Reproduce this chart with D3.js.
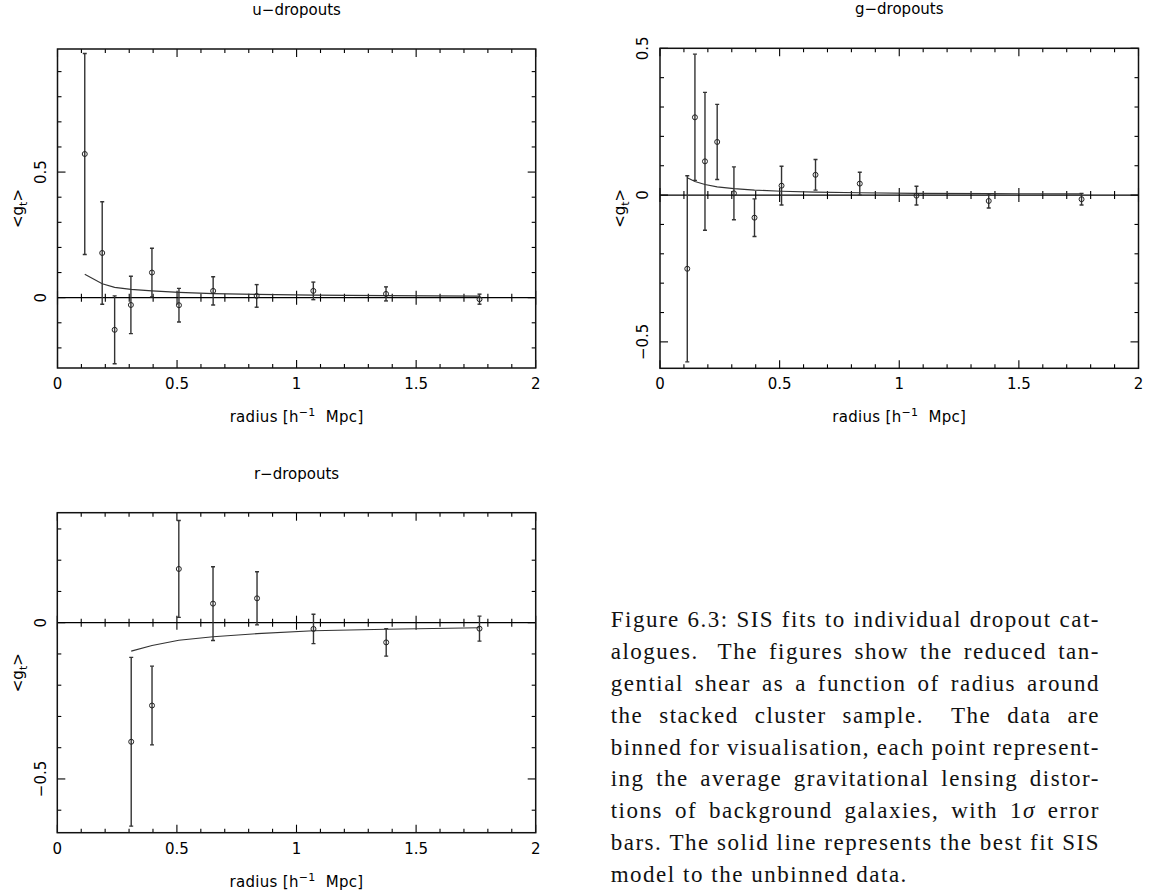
<!DOCTYPE html>
<html>
<head>
<meta charset="utf-8">
<script src="https://cdn.jsdelivr.net/npm/d3@7"></script>
<style>
  body { margin: 0; background: #fff; }
  svg { display: block; }
</style>
</head>
<body>
<svg id="fig" width="1157" height="896"></svg>
<script>
// u-dropouts: bin radius, mean tangential shear, 1 sigma error, SIS model
const uRadius = [0.114, 0.187, 0.239, 0.307, 0.395, 0.508, 0.651, 0.833, 1.070, 1.374, 1.765];
const uShear  = [0.572, 0.178, -0.128, -0.029, 0.100, -0.030, 0.027, 0.007, 0.027, 0.015, -0.006];
const uError  = [0.400, 0.204, 0.135, 0.114, 0.097, 0.067, 0.056, 0.045, 0.035, 0.028, 0.020];
const uModel  = [0.093, 0.055, 0.041, 0.033, 0.027, 0.021, 0.016, 0.013, 0.010, 0.008, 0.006];

// g-dropouts
const gRadius = [0.114, 0.146, 0.188, 0.239, 0.309, 0.395, 0.508, 0.650, 0.835, 1.072, 1.374, 1.762];
const gShear  = [-0.251, 0.265, 0.115, 0.181, 0.006, -0.077, 0.032, 0.069, 0.039, -0.002, -0.020, -0.014];
const gError  = [0.317, 0.215, 0.235, 0.128, 0.090, 0.064, 0.066, 0.052, 0.039, 0.032, 0.024, 0.020];
const gModel  = [0.059, 0.046, 0.036, 0.028, 0.022, 0.017, 0.013, 0.010, 0.008, 0.006, 0.005, 0.004];

// r-dropouts
const rRadius = [0.309, 0.396, 0.508, 0.651, 0.835, 1.071, 1.375, 1.765];
const rShear  = [-0.381, -0.265, 0.172, 0.061, 0.078, -0.020, -0.063, -0.019];
const rError  = [0.270, 0.126, 0.155, 0.118, 0.085, 0.047, 0.044, 0.040];
const rModel  = [-0.091, -0.073, -0.056, -0.045, -0.035, -0.026, -0.021, -0.016];

const xDomain = [0, 2];
const xTickLabels = ["0", "0.5", "1", "1.5", "2"];

const captionLines = [
    "Figure 6.3: SIS fits to individual dropout cat-",
    "alogues.  The figures show the reduced tan-",
    "gential shear as a function of radius around",
    "the stacked cluster sample.  The data are",
    "binned for visualisation, each point represent-",
    "ing the average gravitational lensing distor-",
    "tions of background galaxies, with 1σ error",
    "bars. The solid line represents the best fit SIS",
    "model to the unbinned data."
];

const svg = d3.select("#fig");
const sans = "'DejaVu Sans', sans-serif";
const fmt = d3.format("");

function drawPanel(p) {
    var x = d3.scaleLinear().domain(xDomain).range([p.left, p.right]);
    var y = d3.scaleLinear().domain(p.yDomain).range([p.bottom, p.top]);
    var g = svg.append("g");

    // tick values: minor every 0.1, major every 0.5
    var xMinor = x.ticks(20);
    var xMajor = x.ticks(4);
    var yMinor = d3.range(Math.ceil(p.yDomain[0] * 10 - 1e-6), Math.floor(p.yDomain[1] * 10 + 1e-6) + 1).map(i => i / 10);
    var isMajor = v => Math.abs(v * 2 - Math.round(v * 2)) < 1e-6;

    var clipId = "clip-" + p.id;
    g.append("clipPath").attr("id", clipId)
        .append("rect")
        .attr("x", p.left).attr("y", p.top)
        .attr("width", p.right - p.left).attr("height", p.bottom - p.top);

    var ticks = g.append("g").attr("stroke", "#000").attr("stroke-width", 1.1);

    // top and bottom inward ticks
    ticks.selectAll(".xb").data(xMinor).enter().append("line")
        .attr("x1", d => x(d)).attr("x2", d => x(d))
        .attr("y1", p.bottom).attr("y2", d => p.bottom - (isMajor(d) ? 8 : 4));
    ticks.selectAll(".xt").data(xMinor).enter().append("line")
        .attr("x1", d => x(d)).attr("x2", d => x(d))
        .attr("y1", p.top).attr("y2", d => p.top + (isMajor(d) ? 8 : 4));
    // left and right inward ticks
    ticks.selectAll(".yl").data(yMinor).enter().append("line")
        .attr("y1", d => y(d)).attr("y2", d => y(d))
        .attr("x1", p.left).attr("x2", d => p.left + (isMajor(d) ? 8 : 4));
    ticks.selectAll(".yr").data(yMinor).enter().append("line")
        .attr("y1", d => y(d)).attr("y2", d => y(d))
        .attr("x1", p.right).attr("x2", d => p.right - (isMajor(d) ? 8 : 4));

    // zero axis with ticks on both sides
    g.append("line")
        .attr("x1", p.left).attr("x2", p.right)
        .attr("y1", y(0)).attr("y2", y(0))
        .attr("stroke", "#000").attr("stroke-width", 1.2);
    ticks.selectAll(".x0").data(xMinor).enter().append("line")
        .attr("x1", d => x(d)).attr("x2", d => x(d))
        .attr("y1", d => y(0) - (isMajor(d) ? 7 : 4))
        .attr("y2", d => y(0) + (isMajor(d) ? 7 : 4));

    // frame
    g.append("rect")
        .attr("x", p.left).attr("y", p.top)
        .attr("width", p.right - p.left).attr("height", p.bottom - p.top)
        .attr("fill", "none").attr("stroke", "#111").attr("stroke-width", 1.5);

    var plot = g.append("g").attr("clip-path", "url(#" + clipId + ")");
    var pts = p.radius.map((r, i) => ({ r: r, v: p.shear[i], e: p.error[i], m: p.model[i] }));

    // model line
    plot.append("path")
        .datum(pts)
        .attr("fill", "none")
        .attr("stroke", "#333")
        .attr("stroke-width", 1.1)
        .attr("d", d3.line().x(d => x(d.r)).y(d => y(d.m)));

    // error bars
    var bars = plot.append("g").attr("stroke", "#333").attr("stroke-width", 1.4);
    bars.selectAll(".eb").data(pts).enter().append("line")
        .attr("x1", d => x(d.r)).attr("x2", d => x(d.r))
        .attr("y1", d => y(d.v - d.e)).attr("y2", d => y(d.v + d.e));
    bars.selectAll(".ct").data(pts).enter().append("line")
        .attr("x1", d => x(d.r) - 2).attr("x2", d => x(d.r) + 2)
        .attr("y1", d => y(d.v + d.e)).attr("y2", d => y(d.v + d.e));
    bars.selectAll(".cb").data(pts).enter().append("line")
        .attr("x1", d => x(d.r) - 2).attr("x2", d => x(d.r) + 2)
        .attr("y1", d => y(d.v - d.e)).attr("y2", d => y(d.v - d.e));

    // open circles
    plot.selectAll("circle").data(pts).enter().append("circle")
        .attr("cx", d => x(d.r)).attr("cy", d => y(d.v))
        .attr("r", 2.5)
        .attr("fill", "none").attr("stroke", "#222").attr("stroke-width", 1);

    // x tick labels
    g.selectAll(".xl").data(xMajor).enter().append("text")
        .attr("x", d => x(d)).attr("y", p.bottom + 21)
        .attr("text-anchor", "middle")
        .style("font", "15px " + sans)
        .text((d, i) => xTickLabels[i]);

    // y tick labels, rotated
    g.selectAll(".yt").data(yMinor.filter(isMajor)).enter().append("text")
        .attr("transform", d => "translate(" + (p.left - 17) + "," + y(d) + ") rotate(-90)")
        .attr("dy", "0.36em")
        .attr("text-anchor", "middle")
        .style("font", "15px " + sans)
        .text(d => fmt(d));

    // title
    g.append("text")
        .attr("x", (p.left + p.right) / 2).attr("y", p.top - 34)
        .attr("text-anchor", "middle")
        .style("font", "15px " + sans)
        .text(p.title);

    // x axis label
    var xl = g.append("text")
        .attr("x", (p.left + p.right) / 2).attr("y", p.bottom + 54)
        .attr("text-anchor", "middle")
        .style("font", "15px " + sans)
        .style("letter-spacing", "0.3px");
    xl.append("tspan").text("radius [h");
    xl.append("tspan").attr("dy", -6).style("font-size", "11px").text("−1");
    xl.append("tspan").attr("dy", 6).text("  Mpc]").attr("xml:space", "preserve");

    // y axis label
    var yl = g.append("text")
        .attr("transform", "translate(" + (p.left - 40) + "," + (p.top + p.bottom) / 2 + ") rotate(-90)")
        .attr("dy", "0.36em")
        .attr("text-anchor", "middle")
        .style("font", "15px " + sans);
    yl.append("tspan").text("<g");
    yl.append("tspan").attr("dy", 4).style("font-size", "11px").text("t");
    yl.append("tspan").attr("dy", -4).text(">");
}

drawPanel({ id: "u", title: "u−dropouts", left: 57.5, right: 535.7, top: 49, bottom: 368,
    yDomain: [-0.28, 0.99], radius: uRadius, shear: uShear, error: uError, model: uModel });
drawPanel({ id: "g", title: "g−dropouts", left: 660, right: 1138.5, top: 48.3, bottom: 368.3,
    yDomain: [-0.59, 0.5], radius: gRadius, shear: gShear, error: gError, model: gModel });
drawPanel({ id: "r", title: "r−dropouts", left: 57.3, right: 535.7, top: 512.7, bottom: 832.7,
    yDomain: [-0.672, 0.352], radius: rRadius, shear: rShear, error: rError, model: rModel });

// caption, justified word by word
function drawCaption() {
    var left = 610.7, right = 1100, top = 627.3, lead = 31.8;
    var cap = svg.append("g").style("font", "23px 'Liberation Serif', serif").attr("fill", "#111");

    // widen the letters so the tightest line (line 8) fills the measure with normal spaces
    var probe = cap.append("text").attr("xml:space", "preserve").text(captionLines[7]);
    var natural = probe.node().getComputedTextLength();
    probe.remove();
    var spacing = Math.max(0, (right - left - natural) / captionLines[7].length);
    cap.style("letter-spacing", spacing + "px");

    captionLines.forEach(function (line, li) {
        var words = line.split(/ +/);
        var weights = words.slice(0, -1).map(w => /\.$/.test(w) && li !== 7 ? 1.7 : 1);
        var row = cap.append("g");
        var nodes = words.map(function (w) {
            var t = row.append("text").attr("y", top + li * lead);
            if (w === "1σ") {
                t.append("tspan").text("1");
                t.append("tspan").style("font-style", "italic").text("σ");
            } else {
                t.text(w);
            }
            return t;
        });
        var widths = nodes.map(t => t.node().getComputedTextLength());
        var total = d3.sum(widths);
        var last = li === captionLines.length - 1;
        var unit = last ? 5.8 + spacing : (right - left - total) / d3.sum(weights);
        var cx = left;
        nodes.forEach(function (t, i) {
            t.attr("x", cx);
            cx += widths[i] + (i < weights.length ? unit * weights[i] : 0);
        });
    });
}
drawCaption();
</script>
</body>
</html>
